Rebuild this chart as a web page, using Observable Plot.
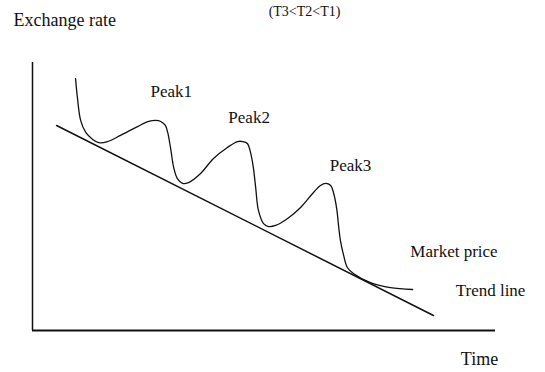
<!DOCTYPE html>
<html><head><meta charset="utf-8">
<script src="https://cdn.jsdelivr.net/npm/d3@7"></script>
<script src="https://cdn.jsdelivr.net/npm/@observablehq/plot@0.6"></script>
<style>html,body{margin:0;padding:0;background:#fff}</style>
</head><body><div id="chart"></div>
<script>
// Market price curve (time, exchange rate) in arbitrary 0-100 units
const marketTime = [9.3, 9.7, 10.4, 11.5, 13.0, 14.3, 16.2, 19.0, 22.7, 25.1, 26.6, 27.7, 28.7, 29.2, 29.8, 30.5, 31.3, 32.4, 33.7, 36.3, 39.1, 42.1, 44.3, 45.4, 46.4, 47.1, 47.7, 48.2, 48.8, 49.9, 51.0, 52.5, 55.1, 57.9, 60.5, 62.2, 63.3, 64.4, 65.0, 65.7, 66.1, 66.5, 67.2, 68.0, 69.3, 73.0, 77.3, 82.1];
const marketRate = [94.0, 86.9, 78.4, 73.9, 71.3, 70.1, 70.5, 72.8, 76.1, 78.0, 78.4, 78.0, 76.5, 73.9, 68.3, 60.8, 56.7, 54.9, 55.2, 58.6, 64.2, 68.3, 70.5, 70.5, 69.8, 66.4, 60.8, 53.4, 44.8, 39.9, 38.8, 39.2, 41.8, 45.9, 51.1, 54.1, 54.9, 54.1, 51.5, 45.5, 39.2, 33.6, 28.0, 23.5, 21.3, 17.9, 16.0, 15.3];
// Trend line end points
const trendTime = [5.2, 86.6];
const trendRate = [76.5, 5.6];
// Text annotations
const labelText = ["Exchange rate", "(T3<T2<T1)", "Peak1", "Peak2", "Peak3", "Market price", "Trend line", "Time"];
const labelTime = [-4.1, 51.0, 25.5, 42.3, 64.2, 81.6, 91.4, 92.5];
const labelRate = [113.8, 117.5, 87.3, 77.6, 59.7, 27.6, 12.7, -13.0];

// styling (not data)
const labelSize = [18, 14, 17, 17, 17, 17, 17, 18];
const labelWidth = [132, 78, 47, 47, 48, 105, 78, 41];

const market = marketTime.map((t, i) => ({t, r: marketRate[i]}));
const trend = trendTime.map((t, i) => ({t, r: trendRate[i]}));
const labels = labelText.map((s, i) => ({s, t: labelTime[i], r: labelRate[i], size: labelSize[i]}));

const chart = Plot.plot({
  width: 545, height: 372,
  marginLeft: 32, marginRight: 50, marginTop: 62, marginBottom: 42,
  style: {fontFamily: "Liberation Serif", background: "white", color: "#111", overflow: "visible"},
  x: {domain: [0, 100], axis: null},
  y: {domain: [0, 100], axis: null},
  marks: [
    Plot.ruleX([0], {y1: 0, y2: 100, stroke: "#111", strokeWidth: 1.5}),
    Plot.ruleY([0], {x1: 0, x2: 100, stroke: "#111", strokeWidth: 1.8}),
    Plot.line(trend, {x: "t", y: "r", stroke: "#111", strokeWidth: 1.5}),
    Plot.line(market, {x: "t", y: "r", stroke: "#111", strokeWidth: 1.3, curve: "catmull-rom"}),
    ...labels.map(d => Plot.text([d], {x: "t", y: "r", text: "s", textAnchor: "start", lineAnchor: "bottom", fontSize: d.size, fill: "#111", ariaLabel: "label"}))
  ]
});
document.getElementById("chart").appendChild(chart);
chart.querySelectorAll('g[aria-label="label"] text').forEach((el, i) => {
  el.setAttribute("textLength", labelWidth[i]);
  el.setAttribute("lengthAdjust", "spacingAndGlyphs");
});
</script>
</body></html>
